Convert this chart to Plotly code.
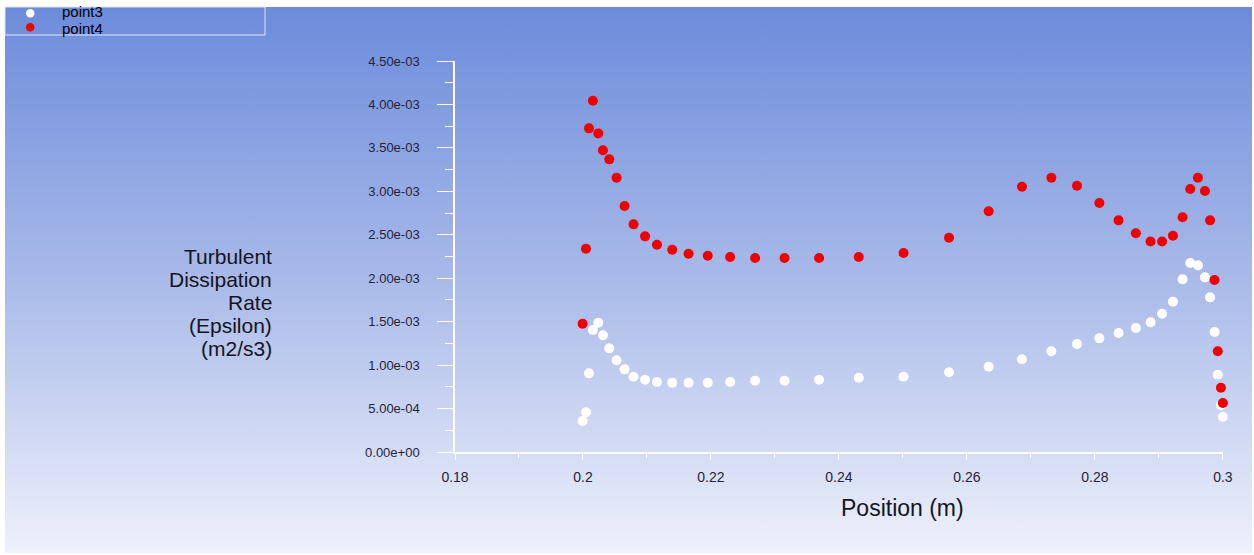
import base64
import plotly.graph_objects as go

# ---------------- data ----------------
positions = [0.19994, 0.20047, 0.20094, 0.20155, 0.20239, 0.20312, 0.20411, 0.20525,
             0.2065, 0.2079, 0.2097, 0.21156, 0.21395, 0.2165, 0.2195, 0.2230, 0.2269,
             0.2315, 0.2369, 0.2431, 0.2501, 0.2572, 0.2634, 0.2686, 0.2732, 0.2772,
             0.2807, 0.2837, 0.2864, 0.2887, 0.2905, 0.2922, 0.2937, 0.2949, 0.2961,
             0.2972, 0.2980, 0.2987, 0.2992, 0.2997, 0.3000]

point3 = [0.357, 0.457, 0.906, 1.404, 1.488, 1.343, 1.193, 1.055, 0.951, 0.867, 0.832,
          0.806, 0.798, 0.798, 0.798, 0.806, 0.821, 0.821, 0.832, 0.855, 0.867, 0.917,
          0.982, 1.067, 1.159, 1.243, 1.308, 1.369, 1.427, 1.494, 1.591, 1.730, 1.987,
          2.175, 2.148, 2.010, 1.780, 1.381, 0.890, 0.541, 0.403]
point3 = [v * 1e-3 for v in point3]

point4 = [1.476, 2.339, 3.725, 4.043, 3.667, 3.472, 3.368, 3.157, 2.831, 2.620, 2.482,
          2.386, 2.328, 2.282, 2.259, 2.244, 2.232, 2.232, 2.232, 2.244, 2.290, 2.466,
          2.770, 3.053, 3.157, 3.065, 2.865, 2.666, 2.517, 2.423, 2.423, 2.489, 2.701,
          3.026, 3.157, 3.003, 2.666, 1.979, 1.159, 0.740, 0.564]
point4 = [v * 1e-3 for v in point4]

series_names = ["point3", "point4"]

y_tickvals = [0, 5e-4, 1e-3, 1.5e-3, 2e-3, 2.5e-3, 3e-3, 3.5e-3, 4e-3, 4.5e-3]
y_ticktext = ["0.00e+00", "5.00e-04", "1.00e-03", "1.50e-03", "2.00e-03",
              "2.50e-03", "3.00e-03", "3.50e-03", "4.00e-03", "4.50e-03"]
x_tickvals = [0.18, 0.2, 0.22, 0.24, 0.26, 0.28, 0.3]
x_ticktext = ["0.18", "0.2", "0.22", "0.24", "0.26", "0.28", "0.3"]

y_title_lines = ["Turbulent", "Dissipation", "Rate", "(Epsilon)", "(m2/s3)"]
x_title = "Position (m)"

# ---------------- layout geometry ----------------
W, H = 1254, 555
ML, MR, MT, MB = 455, 31, 61, 103
PW, PH = W - ML - MR, H - MT - MB


def px(x):
    return (x - ML) / PW


def py(y):
    return (H - MB - y) / PH


# gradient background as an SVG image
svg = (
    '<svg xmlns="http://www.w3.org/2000/svg" width="100" height="100" preserveAspectRatio="none">'
    '<defs><linearGradient id="g" x1="0" y1="0" x2="0" y2="1">'
    '<stop offset="0" stop-color="#6c8bdb"/>'
    '<stop offset="0.5" stop-color="#a9bae9"/>'
    '<stop offset="1" stop-color="#eef1fb"/>'
    '</linearGradient></defs>'
    '<rect width="100" height="100" fill="url(#g)"/></svg>'
)
svg_uri = "data:image/svg+xml;base64," + base64.b64encode(svg.encode()).decode()

fig = go.Figure()
fig.add_trace(go.Scatter(x=positions, y=point3, mode="markers", name=series_names[0],
                         marker=dict(color="white", size=10), cliponaxis=False,
                         showlegend=False))
fig.add_trace(go.Scatter(x=positions, y=point4, mode="markers", name=series_names[1],
                         marker=dict(color="#f00000", size=10), cliponaxis=False,
                         showlegend=False))

tick_font = dict(family="Liberation Sans, Arial, sans-serif", size=13, color="#24243c")

fig.update_layout(
    width=W, height=H,
    margin=dict(l=ML, r=MR, t=MT, b=MB, pad=0),
    paper_bgcolor="white",
    plot_bgcolor="rgba(0,0,0,0)",
    showlegend=False,
    images=[dict(source=svg_uri, xref="paper", yref="paper",
                 x=px(5), y=py(7), sizex=(1252 - 5) / PW, sizey=(553 - 7) / PH,
                 xanchor="left", yanchor="top", sizing="stretch", layer="below")],
    xaxis=dict(range=[0.18, 0.30002], showgrid=False, zeroline=False,
               showline=True, linecolor="white", linewidth=1.5,
               ticks="outside", ticklen=6, tickcolor="white", tickwidth=1,
               tickvals=x_tickvals, ticktext=x_ticktext,
               tickfont=dict(family="Liberation Sans, Arial, sans-serif", size=14, color="#24243c"),
               ticklabelstandoff=5,
               minor=dict(dtick=0.01, ticks="outside", ticklen=4, tickcolor="white", showgrid=False)),
    yaxis=dict(range=[0, 4.5e-3], showgrid=False, zeroline=False,
               showline=True, linecolor="white", linewidth=1.5,
               ticks="outside", ticklen=16, tickcolor="white", tickwidth=1,
               tickvals=y_tickvals, ticktext=y_ticktext, tickfont=tick_font,
               ticklabelstandoff=15,
               minor=dict(dtick=2.5e-4, ticks="outside", ticklen=8, tickcolor="white", showgrid=False)),
)

annotations = []
title_font = dict(family="Liberation Sans, Arial, sans-serif", size=21, color="#14141e")
for i, line in enumerate(y_title_lines):
    annotations.append(dict(text=line, xref="paper", yref="paper", x=px(273), y=py(256 + i * 23),
                            xanchor="right", yanchor="middle", showarrow=False, font=title_font,
                            borderpad=0))
annotations.append(dict(text=x_title, xref="paper", yref="paper", x=px(902), y=py(508),
                        xanchor="center", yanchor="middle", showarrow=False,
                        font=dict(family="Liberation Sans, Arial, sans-serif", size=23, color="#14141e")))

# legend box (manual, compact like the reference)
legend_font = dict(family="Liberation Sans, Arial, sans-serif", size=15, color="black")
annotations.append(dict(text=series_names[0], xref="paper", yref="paper", x=px(61), y=py(12),
                        xanchor="left", yanchor="middle", showarrow=False, font=legend_font,
                        borderpad=0))
annotations.append(dict(text=series_names[1], xref="paper", yref="paper", x=px(61), y=py(28),
                        xanchor="left", yanchor="middle", showarrow=False, font=legend_font,
                        borderpad=0))
fig.update_layout(annotations=annotations)

shapes = [
    dict(type="rect", xref="paper", yref="paper", x0=px(5), x1=px(265), y0=py(7), y1=py(35),
         line=dict(color="#dfe6f7", width=1), fillcolor="rgba(0,0,0,0)", layer="above"),
    dict(type="circle", xref="paper", yref="paper", x0=px(26), x1=px(34.5), y0=py(9), y1=py(17.5),
         line=dict(width=0), fillcolor="white"),
    dict(type="circle", xref="paper", yref="paper", x0=px(26), x1=px(34.5), y0=py(23), y1=py(31.5),
         line=dict(width=0), fillcolor="#f00000"),
]
fig.update_layout(shapes=shapes)

fig.write_html("out.html", config={"displayModeBar": False},
               post_script="document.body.style.margin='0';document.body.style.overflow='hidden';")
